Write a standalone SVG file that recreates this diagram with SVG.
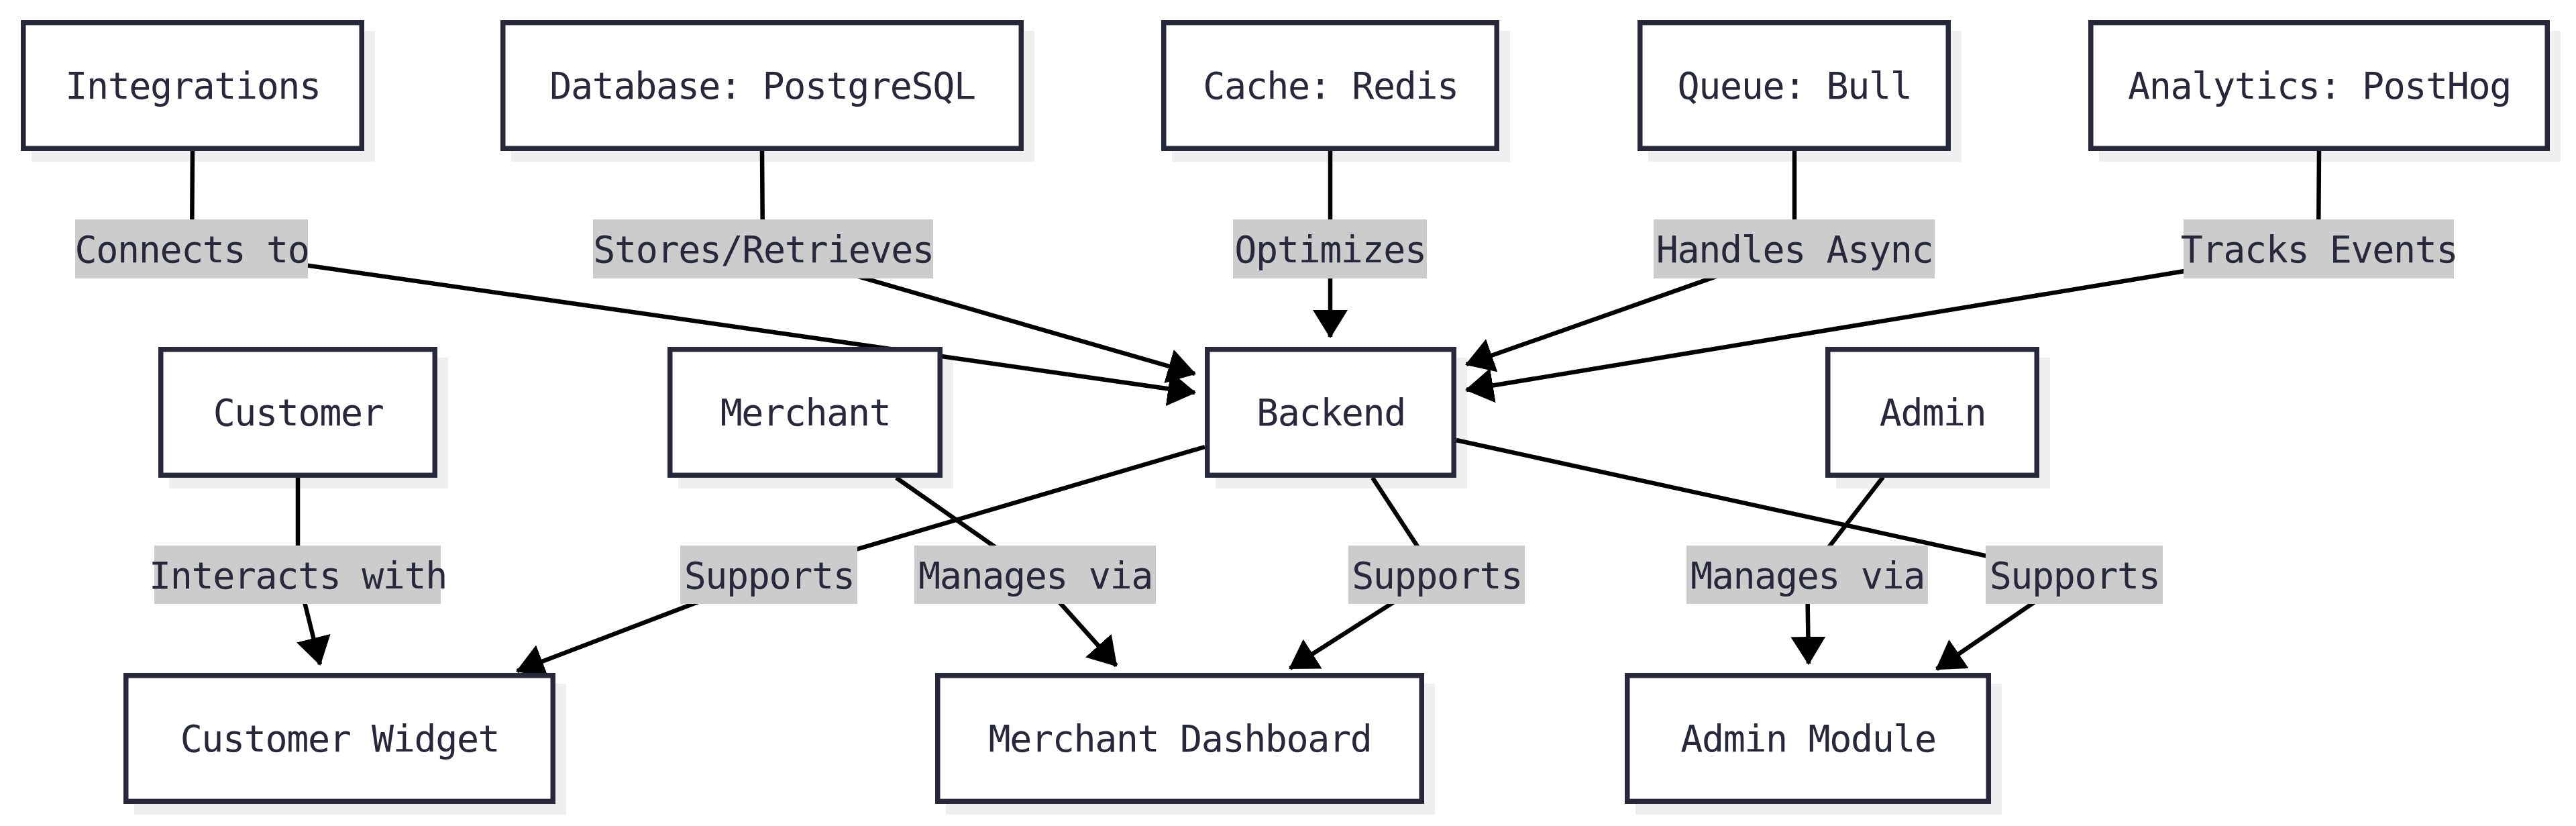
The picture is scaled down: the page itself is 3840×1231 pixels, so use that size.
<svg xmlns="http://www.w3.org/2000/svg" width="3840" height="1231" viewBox="0 0 3840 1231">
<style>
.shadow{fill:#efefef;}
.box{fill:#ffffff;stroke:#28283d;stroke-width:7.5;}
.t{font-family:"DejaVu Sans Mono","Liberation Mono",monospace;font-size:55px;letter-spacing:-1.4px;fill:#28283d;text-anchor:middle;}
.lbl{fill:#cccccc;}
.e{fill:none;stroke:#000000;stroke-width:6.5;stroke-linejoin:round;}
</style>
<defs>
<marker id="arr" markerUnits="userSpaceOnUse" markerWidth="42" markerHeight="52" viewBox="0 0 42 52" refX="40" refY="26" orient="auto">
<path d="M0,0 L42,26 L0,52 z" fill="#000000"/>
</marker>
</defs>
<rect width="3840" height="1231" fill="#ffffff"/>

<g id="nodes-shadows">
<rect class="shadow" x="47" y="46" width="512" height="195"/>
<rect class="shadow" x="762" y="46" width="780" height="195"/>
<rect class="shadow" x="1747" y="46" width="504" height="195"/>
<rect class="shadow" x="2457" y="46" width="467" height="195"/>
<rect class="shadow" x="3129" y="46" width="688" height="195"/>
<rect class="shadow" x="252" y="533" width="416" height="195"/>
<rect class="shadow" x="1011" y="533" width="410" height="195"/>
<rect class="shadow" x="1812" y="533" width="375" height="195"/>
<rect class="shadow" x="2737" y="533" width="319" height="195"/>
<rect class="shadow" x="200" y="1019" width="644" height="195"/>
<rect class="shadow" x="1410" y="1019" width="729" height="195"/>
<rect class="shadow" x="2438" y="1019" width="546" height="195"/>
</g>

<g id="connectors">
<path class="e" d="M287,225 L286,371 L1781,585" marker-end="url(#arr)"/>
<path class="e" d="M1136,225 L1137,371 L1781,557" marker-end="url(#arr)"/>
<path class="e" d="M1983,225 L1983,371 L1983,502" marker-end="url(#arr)"/>
<path class="e" d="M2675,225 L2675,371 L2186,543" marker-end="url(#arr)"/>
<path class="e" d="M3457,225 L3456,371 L2186,581" marker-end="url(#arr)"/>
<path class="e" d="M444,711 L444,857 L477,990" marker-end="url(#arr)"/>
<path class="e" d="M1796,666 L1146,857 L771,1000" marker-end="url(#arr)"/>
<path class="e" d="M1336,712 L1543,857 L1664,992" marker-end="url(#arr)"/>
<path class="e" d="M2046,712 L2141,857 L1923,996" marker-end="url(#arr)"/>
<path class="e" d="M2807,711 L2694,857 L2696,989" marker-end="url(#arr)"/>
<path class="e" d="M2171,656 L3092,857 L2887,997" marker-end="url(#arr)"/>
</g>

<g id="edge-labels">
<g id="lbl-connects"><rect class="lbl" x="112" y="327" width="347" height="88"/><text class="t" x="286" y="391">Connects to</text></g>
<g id="lbl-stores"><rect class="lbl" x="884" y="327" width="507" height="88"/><text class="t" x="1138" y="391">Stores/Retrieves</text></g>
<g id="lbl-optimizes"><rect class="lbl" x="1838" y="327" width="289" height="88"/><text class="t" x="1983" y="391">Optimizes</text></g>
<g id="lbl-handles"><rect class="lbl" x="2465" y="327" width="419" height="88"/><text class="t" x="2675" y="391">Handles Async</text></g>
<g id="lbl-tracks"><rect class="lbl" x="3255" y="327" width="403" height="88"/><text class="t" x="3457" y="391">Tracks Events</text></g>
<g id="lbl-interacts"><rect class="lbl" x="230" y="813" width="427" height="87"/><text class="t" x="444" y="877">Interacts with</text></g>
<g id="lbl-supports1"><rect class="lbl" x="1014" y="813" width="264" height="87"/><text class="t" x="1146.5" y="877">Supports</text></g>
<g id="lbl-manages1"><rect class="lbl" x="1363" y="813" width="360" height="87"/><text class="t" x="1543.5" y="877">Manages via</text></g>
<g id="lbl-supports2"><rect class="lbl" x="2010" y="813" width="263" height="87"/><text class="t" x="2142" y="877">Supports</text></g>
<g id="lbl-manages2"><rect class="lbl" x="2514" y="813" width="360" height="87"/><text class="t" x="2694.5" y="877">Manages via</text></g>
<g id="lbl-supports3"><rect class="lbl" x="2960" y="813" width="264" height="87"/><text class="t" x="3092.5" y="877">Supports</text></g>
</g>

<g id="integrations"><rect class="box" x="34.75" y="33.75" width="504.5" height="187.5"/><text class="t" x="287.5" y="147">Integrations</text></g>
<g id="database"><rect class="box" x="749.75" y="33.75" width="772.5" height="187.5"/><text class="t" x="1136.5" y="147">Database: PostgreSQL</text></g>
<g id="cache"><rect class="box" x="1734.75" y="33.75" width="496.5" height="187.5"/><text class="t" x="1983.5" y="147">Cache: Redis</text></g>
<g id="queue"><rect class="box" x="2444.75" y="33.75" width="459.5" height="187.5"/><text class="t" x="2675" y="147">Queue: Bull</text></g>
<g id="analytics"><rect class="box" x="3116.75" y="33.75" width="680.5" height="187.5"/><text class="t" x="3457.5" y="147">Analytics: PostHog</text></g>
<g id="customer"><rect class="box" x="239.75" y="520.75" width="408.5" height="187.5"/><text class="t" x="444.5" y="634">Customer</text></g>
<g id="merchant"><rect class="box" x="998.75" y="520.75" width="402.5" height="187.5"/><text class="t" x="1200.5" y="634">Merchant</text></g>
<g id="backend"><rect class="box" x="1799.75" y="520.75" width="367.5" height="187.5"/><text class="t" x="1984" y="634">Backend</text></g>
<g id="admin"><rect class="box" x="2724.75" y="520.75" width="311.5" height="187.5"/><text class="t" x="2881" y="634">Admin</text></g>
<g id="customer-widget"><rect class="box" x="187.75" y="1006.75" width="636.5" height="187.5"/><text class="t" x="506.5" y="1120">Customer Widget</text></g>
<g id="merchant-dashboard"><rect class="box" x="1397.75" y="1006.75" width="721.5" height="187.5"/><text class="t" x="1759" y="1120">Merchant Dashboard</text></g>
<g id="admin-module"><rect class="box" x="2425.75" y="1006.75" width="538.5" height="187.5"/><text class="t" x="2695.5" y="1120">Admin Module</text></g>
</svg>
